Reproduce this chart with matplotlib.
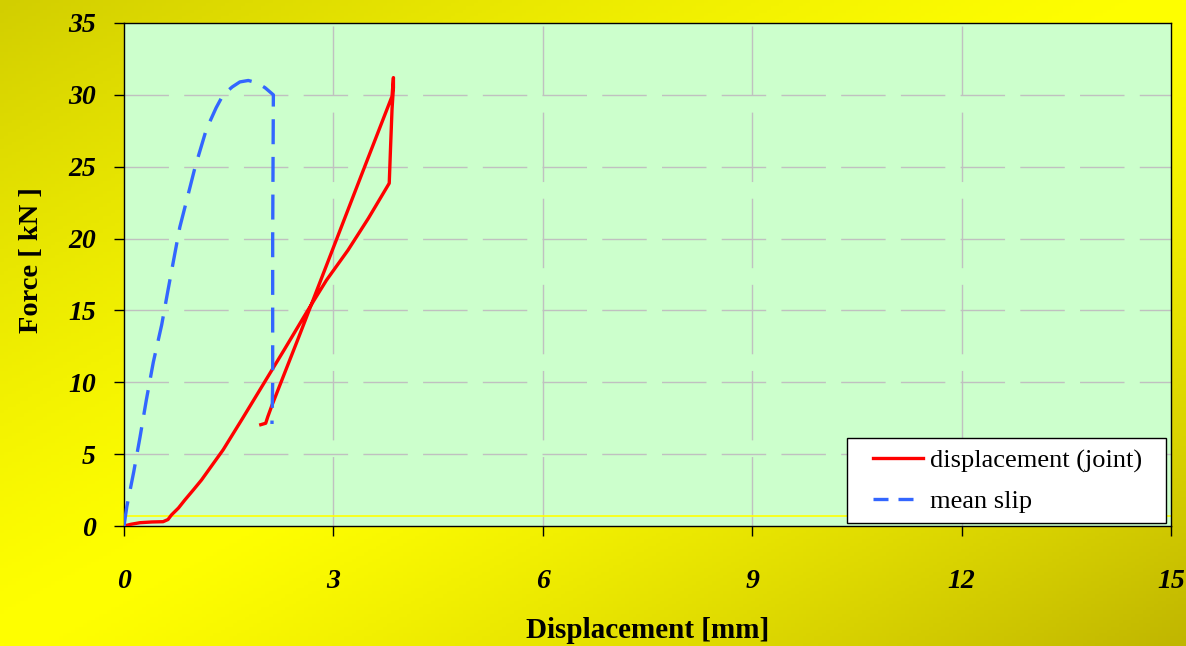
import numpy as np
import matplotlib
matplotlib.use("Agg")
import matplotlib.pyplot as plt
from matplotlib.lines import Line2D
from matplotlib.patches import Rectangle

# ---- data ----
joint_x = [0.00, 0.10, 0.23, 0.40, 0.56, 0.63, 0.68, 0.78, 0.87, 1.00, 1.11, 1.25, 1.42,
           1.70, 2.00, 2.30, 2.62, 2.90, 3.21, 3.50, 3.80, 3.82, 3.84, 3.86, 3.86,
           3.84, 3.40, 2.93, 2.50, 2.12, 2.06, 2.03, 1.96]
joint_y = [0.00, 0.12, 0.23, 0.28, 0.30, 0.45, 0.77, 1.25, 1.80, 2.55, 3.20, 4.15, 5.30,
           7.50, 9.90, 12.30, 14.90, 17.10, 19.20, 21.40, 23.85, 26.5, 29.0, 30.5, 31.2,
           29.9, 24.4, 18.5, 13.1, 8.4, 7.6, 7.15, 7.05]

slip_x = [0.00, 0.04, 0.14, 0.23, 0.32, 0.42, 0.54, 0.63, 0.73, 0.80, 0.90, 1.02, 1.18,
          1.32, 1.42, 1.55, 1.66, 1.78, 1.90, 2.02, 2.14, 2.13, 2.13, 2.12]
slip_y = [0.0, 1.34, 3.78, 6.2, 8.77, 11.4, 14.0, 16.4, 19.0, 20.8, 22.7, 25.0, 27.6,
          29.1, 30.0, 30.55, 30.9, 31.0, 30.85, 30.5, 30.0, 20.0, 10.0, 7.1]

base_x = [0, 15]
base_y = [0.7, 0.7]

x_ticks = [0, 3, 6, 9, 12, 15]
y_ticks = [0, 5, 10, 15, 20, 25, 30, 35]

W, H = 1186, 646
fig = plt.figure(figsize=(W / 100, H / 100), dpi=100)

# background gradient
bg = fig.add_axes([0, 0, 1, 1], zorder=-10)
gx, gy = np.meshgrid(np.linspace(0, 1, 300), np.linspace(0, 1, 200))
t = (gx + gy) / 2.0
d = np.abs(t - 0.5) * 2
dark_tl = np.array([210, 206, 0]) / 255.0
dark_br = np.array([192, 182, 0]) / 255.0
bright = np.array([255, 255, 0]) / 255.0
img = np.zeros(gx.shape + (3,))
for c in range(3):
    dk = np.where(t < 0.5, dark_tl[c], dark_br[c])
    img[..., c] = bright[c] + (dk - bright[c]) * d ** 1.3
bg.imshow(img, aspect='auto', extent=[0, 1, 0, 1], origin='upper')
bg.set_axis_off()

ax = fig.add_axes([124 / W, 1 - 526 / H, (1171 - 124) / W, (526 - 23) / H])
ax.set_facecolor('#CCFFCC')

for yv in y_ticks[1:-1]:
    ax.axhline(yv, color='#C0C0C0', lw=1.0, dashes=(32, 11), zorder=1)
for xv in x_ticks[1:-1]:
    ax.axvline(xv, color='#C0C0C0', lw=1.0, dashes=(50, 12), zorder=1)

ax.plot(base_x, base_y, color='#FFFF00', lw=1.2, zorder=2)
ax.plot(joint_x, joint_y, color='#FF0000', lw=2.4, zorder=3, solid_joinstyle='round')
ax.plot(slip_x, slip_y, color='#3366FF', lw=2.4, dashes=(7.5, 3.8), zorder=3)

ax.set_xlim(0, 15)
ax.set_ylim(0, 35)
ax.set_xticks(x_ticks)
ax.set_yticks(y_ticks)
tickfont = dict(family='Liberation Serif', weight='bold', style='italic', size=20)
ax.set_xticklabels([str(v) for v in x_ticks], fontdict=tickfont)
ax.set_yticklabels([str(v) for v in y_ticks], fontdict=tickfont)
ax.tick_params(axis='x', direction='out', length=7.2, width=1, pad=24)
ax.tick_params(axis='y', direction='out', length=7.2, width=1, pad=13)
for s in ax.spines.values():
    s.set_linewidth(1.0)
    s.set_color('black')

ax.set_xlabel('Displacement [mm]', family='Liberation Serif', weight='bold', size=21,
              labelpad=16)
ax.set_ylabel('Force [ kN ]', family='Liberation Serif', weight='bold', size=20.5)
ax.yaxis.label.set_va('center')
ax.yaxis.set_label_coords((31 - 124) / 1047, (526 - 260) / 503)

# legend box
ax.add_patch(Rectangle((0.6906, 0.006), 0.995 - 0.6906, 0.175 - 0.006,
                       transform=ax.transAxes, facecolor='white', edgecolor='black',
                       lw=1.0, zorder=4))
handles = [Line2D([], [], color='#FF0000', lw=2.4),
           Line2D([], [], color='#3366FF', lw=2.4, dashes=(4.5, 3))]
leg = ax.legend(handles, ['displacement (joint)', 'mean slip'], loc='center left',
                bbox_to_anchor=((873 - 124) / 1047, (526 - 481) / 503),
                borderaxespad=0, borderpad=0, frameon=False,
                prop=dict(family='Liberation Serif', size=19), handlelength=1.9,
                handletextpad=0.27, labelspacing=0.62)
leg.set_zorder(5)

fig.savefig('out.png', dpi=100)
